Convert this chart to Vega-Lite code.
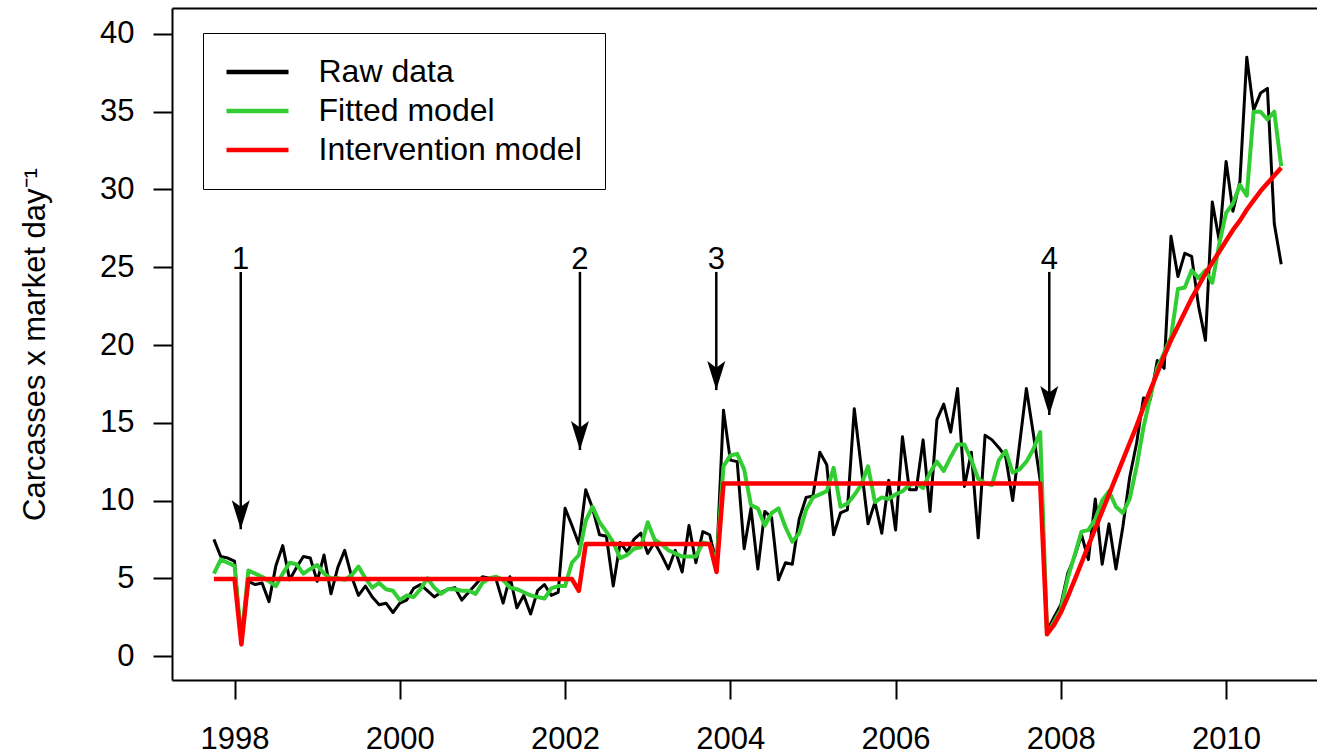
{
  "$schema": "https://vega.github.io/schema/vega-lite/v6.json",
  "width": 1145,
  "height": 672,
  "autosize": {"type": "none"},
  "padding": {"left": 172, "top": 8, "right": 0, "bottom": 75},
  "background": "white",
  "config": {"view": {"stroke": null}, "font": "Liberation Sans"},
  "datasets": {
    "series": [
      {"t":1997.75,"raw":7.5,"fitted":5.3,"intervention":4.95},
      {"t":1997.833,"raw":6.4,"fitted":6.2,"intervention":4.95},
      {"t":1997.917,"raw":6.3,"fitted":6.0,"intervention":4.95},
      {"t":1998,"raw":6.1,"fitted":5.8,"intervention":4.95},
      {"t":1998.083,"raw":0.8,"fitted":1.0,"intervention":0.75},
      {"t":1998.167,"raw":4.8,"fitted":5.5,"intervention":4.95},
      {"t":1998.25,"raw":4.6,"fitted":5.3,"intervention":4.95},
      {"t":1998.333,"raw":4.7,"fitted":5.1,"intervention":4.95},
      {"t":1998.417,"raw":3.5,"fitted":4.8,"intervention":4.95},
      {"t":1998.5,"raw":5.8,"fitted":4.5,"intervention":4.95},
      {"t":1998.583,"raw":7.1,"fitted":5.3,"intervention":4.95},
      {"t":1998.667,"raw":4.9,"fitted":6.0,"intervention":4.95},
      {"t":1998.75,"raw":5.7,"fitted":5.9,"intervention":4.95},
      {"t":1998.833,"raw":6.4,"fitted":5.3,"intervention":4.95},
      {"t":1998.917,"raw":6.3,"fitted":5.6,"intervention":4.95},
      {"t":1999,"raw":4.8,"fitted":5.85,"intervention":4.95},
      {"t":1999.083,"raw":6.5,"fitted":5.3,"intervention":4.95},
      {"t":1999.167,"raw":4.0,"fitted":5.0,"intervention":4.95},
      {"t":1999.25,"raw":5.7,"fitted":5.0,"intervention":4.95},
      {"t":1999.333,"raw":6.8,"fitted":4.9,"intervention":4.95},
      {"t":1999.417,"raw":5.1,"fitted":5.2,"intervention":4.95},
      {"t":1999.5,"raw":3.9,"fitted":5.75,"intervention":4.95},
      {"t":1999.583,"raw":4.5,"fitted":5.0,"intervention":4.95},
      {"t":1999.667,"raw":3.8,"fitted":4.4,"intervention":4.95},
      {"t":1999.75,"raw":3.3,"fitted":4.7,"intervention":4.95},
      {"t":1999.833,"raw":3.4,"fitted":4.3,"intervention":4.95},
      {"t":1999.917,"raw":2.8,"fitted":4.2,"intervention":4.95},
      {"t":2000,"raw":3.4,"fitted":3.6,"intervention":4.95},
      {"t":2000.083,"raw":3.6,"fitted":3.9,"intervention":4.95},
      {"t":2000.167,"raw":4.35,"fitted":3.8,"intervention":4.95},
      {"t":2000.25,"raw":4.6,"fitted":4.3,"intervention":4.95},
      {"t":2000.333,"raw":4.2,"fitted":5.0,"intervention":4.95},
      {"t":2000.417,"raw":3.8,"fitted":4.4,"intervention":4.95},
      {"t":2000.5,"raw":4.1,"fitted":4.0,"intervention":4.95},
      {"t":2000.583,"raw":4.3,"fitted":4.3,"intervention":4.95},
      {"t":2000.667,"raw":4.4,"fitted":4.3,"intervention":4.95},
      {"t":2000.75,"raw":3.6,"fitted":4.2,"intervention":4.95},
      {"t":2000.833,"raw":4.1,"fitted":4.2,"intervention":4.95},
      {"t":2000.917,"raw":4.6,"fitted":4.0,"intervention":4.95},
      {"t":2001,"raw":5.1,"fitted":4.7,"intervention":4.95},
      {"t":2001.083,"raw":5.0,"fitted":5.0,"intervention":4.95},
      {"t":2001.167,"raw":4.9,"fitted":5.1,"intervention":4.95},
      {"t":2001.25,"raw":3.4,"fitted":4.9,"intervention":4.95},
      {"t":2001.333,"raw":5.1,"fitted":4.4,"intervention":4.95},
      {"t":2001.417,"raw":3.1,"fitted":4.3,"intervention":4.95},
      {"t":2001.5,"raw":3.9,"fitted":4.1,"intervention":4.95},
      {"t":2001.583,"raw":2.7,"fitted":3.9,"intervention":4.95},
      {"t":2001.667,"raw":4.2,"fitted":3.8,"intervention":4.95},
      {"t":2001.75,"raw":4.6,"fitted":3.7,"intervention":4.95},
      {"t":2001.833,"raw":3.9,"fitted":4.35,"intervention":4.95},
      {"t":2001.917,"raw":4.1,"fitted":4.5,"intervention":4.95},
      {"t":2002,"raw":9.5,"fitted":4.5,"intervention":4.95},
      {"t":2002.083,"raw":8.4,"fitted":6.0,"intervention":4.95},
      {"t":2002.167,"raw":7.2,"fitted":6.5,"intervention":4.2},
      {"t":2002.25,"raw":10.7,"fitted":8.7,"intervention":7.2},
      {"t":2002.333,"raw":9.5,"fitted":9.6,"intervention":7.2},
      {"t":2002.417,"raw":7.8,"fitted":8.6,"intervention":7.2},
      {"t":2002.5,"raw":7.7,"fitted":8.0,"intervention":7.2},
      {"t":2002.583,"raw":4.5,"fitted":7.3,"intervention":7.2},
      {"t":2002.667,"raw":7.3,"fitted":6.3,"intervention":7.2},
      {"t":2002.75,"raw":6.7,"fitted":6.5,"intervention":7.2},
      {"t":2002.833,"raw":7.5,"fitted":6.9,"intervention":7.2},
      {"t":2002.917,"raw":7.9,"fitted":7.0,"intervention":7.2},
      {"t":2003,"raw":6.6,"fitted":8.6,"intervention":7.2},
      {"t":2003.083,"raw":7.3,"fitted":7.5,"intervention":7.2},
      {"t":2003.167,"raw":6.5,"fitted":7.2,"intervention":7.2},
      {"t":2003.25,"raw":5.6,"fitted":6.8,"intervention":7.2},
      {"t":2003.333,"raw":6.8,"fitted":6.6,"intervention":7.2},
      {"t":2003.417,"raw":5.4,"fitted":6.4,"intervention":7.2},
      {"t":2003.5,"raw":8.4,"fitted":6.4,"intervention":7.2},
      {"t":2003.583,"raw":6.0,"fitted":6.4,"intervention":7.2},
      {"t":2003.667,"raw":8.0,"fitted":7.3,"intervention":7.2},
      {"t":2003.75,"raw":7.8,"fitted":7.2,"intervention":7.2},
      {"t":2003.833,"raw":6.0,"fitted":6.0,"intervention":5.4},
      {"t":2003.917,"raw":15.8,"fitted":12.2,"intervention":11.1},
      {"t":2004,"raw":12.6,"fitted":12.9,"intervention":11.1},
      {"t":2004.083,"raw":12.5,"fitted":13.0,"intervention":11.1},
      {"t":2004.167,"raw":6.9,"fitted":12.0,"intervention":11.1},
      {"t":2004.25,"raw":9.5,"fitted":9.7,"intervention":11.1},
      {"t":2004.333,"raw":5.6,"fitted":9.5,"intervention":11.1},
      {"t":2004.417,"raw":9.3,"fitted":8.4,"intervention":11.1},
      {"t":2004.5,"raw":8.9,"fitted":9.2,"intervention":11.1},
      {"t":2004.583,"raw":4.9,"fitted":9.5,"intervention":11.1},
      {"t":2004.667,"raw":6.0,"fitted":8.3,"intervention":11.1},
      {"t":2004.75,"raw":5.9,"fitted":7.35,"intervention":11.1},
      {"t":2004.833,"raw":8.8,"fitted":7.9,"intervention":11.1},
      {"t":2004.917,"raw":10.2,"fitted":9.4,"intervention":11.1},
      {"t":2005,"raw":10.3,"fitted":10.2,"intervention":11.1},
      {"t":2005.083,"raw":13.1,"fitted":10.4,"intervention":11.1},
      {"t":2005.167,"raw":12.3,"fitted":10.6,"intervention":11.1},
      {"t":2005.25,"raw":7.8,"fitted":12.1,"intervention":11.1},
      {"t":2005.333,"raw":9.2,"fitted":9.6,"intervention":11.1},
      {"t":2005.417,"raw":9.4,"fitted":9.8,"intervention":11.1},
      {"t":2005.5,"raw":15.9,"fitted":10.35,"intervention":11.1},
      {"t":2005.583,"raw":12.2,"fitted":11.0,"intervention":11.1},
      {"t":2005.667,"raw":8.5,"fitted":12.2,"intervention":11.1},
      {"t":2005.75,"raw":9.9,"fitted":9.9,"intervention":11.1},
      {"t":2005.833,"raw":7.9,"fitted":10.2,"intervention":11.1},
      {"t":2005.917,"raw":11.3,"fitted":10.1,"intervention":11.1},
      {"t":2006,"raw":8.1,"fitted":10.4,"intervention":11.1},
      {"t":2006.083,"raw":14.1,"fitted":10.6,"intervention":11.1},
      {"t":2006.167,"raw":10.7,"fitted":11.0,"intervention":11.1},
      {"t":2006.25,"raw":10.7,"fitted":11.1,"intervention":11.1},
      {"t":2006.333,"raw":13.9,"fitted":10.8,"intervention":11.1},
      {"t":2006.417,"raw":9.3,"fitted":11.8,"intervention":11.1},
      {"t":2006.5,"raw":15.2,"fitted":12.5,"intervention":11.1},
      {"t":2006.583,"raw":16.2,"fitted":11.9,"intervention":11.1},
      {"t":2006.667,"raw":14.4,"fitted":12.8,"intervention":11.1},
      {"t":2006.75,"raw":17.2,"fitted":13.6,"intervention":11.1},
      {"t":2006.833,"raw":10.9,"fitted":13.6,"intervention":11.1},
      {"t":2006.917,"raw":13.1,"fitted":12.6,"intervention":11.1},
      {"t":2007,"raw":7.6,"fitted":11.4,"intervention":11.1},
      {"t":2007.083,"raw":14.2,"fitted":11.1,"intervention":11.1},
      {"t":2007.167,"raw":13.9,"fitted":11.0,"intervention":11.1},
      {"t":2007.25,"raw":13.4,"fitted":12.6,"intervention":11.1},
      {"t":2007.333,"raw":12.8,"fitted":13.2,"intervention":11.1},
      {"t":2007.417,"raw":10.0,"fitted":11.8,"intervention":11.1},
      {"t":2007.5,"raw":13.6,"fitted":12.0,"intervention":11.1},
      {"t":2007.583,"raw":17.2,"fitted":12.5,"intervention":11.1},
      {"t":2007.667,"raw":14.3,"fitted":13.3,"intervention":11.1},
      {"t":2007.75,"raw":11.3,"fitted":14.4,"intervention":11.1},
      {"t":2007.833,"raw":1.6,"fitted":1.4,"intervention":1.4},
      {"t":2007.917,"raw":2.5,"fitted":2.2,"intervention":2.0},
      {"t":2008,"raw":3.3,"fitted":3.0,"intervention":2.8},
      {"t":2008.083,"raw":5.3,"fitted":5.0,"intervention":3.8},
      {"t":2008.167,"raw":6.4,"fitted":6.5,"intervention":4.9},
      {"t":2008.25,"raw":7.8,"fitted":8.0,"intervention":6.0},
      {"t":2008.333,"raw":6.2,"fitted":8.1,"intervention":7.1},
      {"t":2008.417,"raw":10.1,"fitted":8.8,"intervention":8.2},
      {"t":2008.5,"raw":5.9,"fitted":10.0,"intervention":9.3},
      {"t":2008.583,"raw":8.5,"fitted":10.6,"intervention":10.4},
      {"t":2008.667,"raw":5.6,"fitted":9.6,"intervention":11.5},
      {"t":2008.75,"raw":8.3,"fitted":9.2,"intervention":12.6},
      {"t":2008.833,"raw":11.5,"fitted":10.1,"intervention":13.7},
      {"t":2008.917,"raw":13.7,"fitted":12.2,"intervention":14.8},
      {"t":2009,"raw":16.6,"fitted":14.7,"intervention":16.0},
      {"t":2009.083,"raw":16.5,"fitted":16.7,"intervention":17.1},
      {"t":2009.167,"raw":19.0,"fitted":18.5,"intervention":18.2},
      {"t":2009.25,"raw":18.5,"fitted":19.5,"intervention":19.3},
      {"t":2009.333,"raw":27.0,"fitted":20.5,"intervention":20.3},
      {"t":2009.417,"raw":24.4,"fitted":23.6,"intervention":21.2},
      {"t":2009.5,"raw":25.9,"fitted":23.7,"intervention":22.1},
      {"t":2009.583,"raw":25.7,"fitted":24.8,"intervention":23.0},
      {"t":2009.667,"raw":22.5,"fitted":24.3,"intervention":23.8},
      {"t":2009.75,"raw":20.3,"fitted":24.8,"intervention":24.6},
      {"t":2009.833,"raw":29.2,"fitted":24.0,"intervention":25.3},
      {"t":2009.917,"raw":26.7,"fitted":26.5,"intervention":26.0},
      {"t":2010,"raw":31.8,"fitted":28.5,"intervention":26.7},
      {"t":2010.083,"raw":28.6,"fitted":29.1,"intervention":27.4},
      {"t":2010.167,"raw":30.5,"fitted":30.3,"intervention":28.0},
      {"t":2010.25,"raw":38.5,"fitted":29.6,"intervention":28.7},
      {"t":2010.333,"raw":35.1,"fitted":35.0,"intervention":29.3},
      {"t":2010.417,"raw":36.2,"fitted":35.0,"intervention":29.9},
      {"t":2010.5,"raw":36.5,"fitted":34.5,"intervention":30.4},
      {"t":2010.583,"raw":27.8,"fitted":35.0,"intervention":30.9},
      {"t":2010.667,"raw":25.2,"fitted":31.5,"intervention":31.4}
    ],
    "events": [
      {"event":"1","t":1998.075,"top":24.7,"tip":8.15},
      {"event":"2","t":2002.18,"top":24.7,"tip":13.25},
      {"event":"3","t":2003.83,"top":24.7,"tip":17.1},
      {"event":"4","t":2007.86,"top":24.7,"tip":15.5}
    ]
  },
  "resolve": {"axis": {"x": "independent"}},
  "layer": [
    {
      "data": {"name": "series"},
      "mark": {"type": "line", "strokeWidth": 3, "strokeJoin": "round"},
      "encoding": {
        "x": {
          "field": "t", "type": "quantitative",
          "scale": {"domain": [1997.243, 2011.1], "nice": false, "zero": false},
          "axis": {
            "orient": "bottom", "values": [1998, 2000, 2002, 2004, 2006, 2008, 2010], "format": "d",
            "title": null, "grid": false, "tickSize": 19, "tickWidth": 2, "tickColor": "black",
            "domainColor": "black", "domainWidth": 2, "labelFontSize": 31, "labelColor": "black",
            "labelPadding": 25, "labelFont": "Liberation Sans", "labelFlush": false, "labelOverlap": false
          }
        },
        "y": {
          "field": "raw", "type": "quantitative",
          "scale": {"domain": [-1.54, 41.67], "nice": false, "zero": false},
          "axis": {
            "values": [0, 5, 10, 15, 20, 25, 30, 35, 40], "grid": false, "tickSize": 19, "tickWidth": 2,
            "tickColor": "black", "domainColor": "black", "domainWidth": 2, "labelFontSize": 31,
            "labelColor": "black", "labelPadding": 19, "labelFont": "Liberation Sans",
            "labelFlush": false, "labelOverlap": false,
            "title": "Carcasses x market day⁻¹", "titleFontSize": 31, "titleFontWeight": "normal",
            "titleColor": "black", "titleFont": "Liberation Sans", "titlePadding": 48
          }
        },
        "color": {
          "datum": "Raw data", "type": "nominal",
          "scale": {"domain": ["Raw data", "Fitted model", "Intervention model"], "range": ["#000000", "#32CD32", "#FF0000"]},
          "legend": {
            "orient": "none", "legendX": 31, "legendY": 25, "title": null,
            "symbolType": "M-2.296,0L2.296,0", "symbolSize": 729, "symbolStrokeWidth": 4.5,
            "symbolOffset": 15.5, "labelOffset": 45, "rowPadding": 7,
            "labelFontSize": 32, "labelFont": "Liberation Sans", "labelColor": "black", "labelLimit": 400,
            "strokeColor": "black", "padding": 23, "fillColor": "white"
          }
        }
      }
    },
    {
      "data": {"name": "series"},
      "mark": {"type": "line", "strokeWidth": 4, "strokeJoin": "round"},
      "encoding": {
        "x": {"field": "t", "type": "quantitative", "axis": null},
        "y": {"field": "fitted", "type": "quantitative"},
        "color": {"datum": "Fitted model", "type": "nominal"}
      }
    },
    {
      "data": {"name": "series"},
      "mark": {"type": "line", "strokeWidth": 4.5, "strokeJoin": "round"},
      "encoding": {
        "x": {"field": "t", "type": "quantitative", "axis": null},
        "y": {"field": "intervention", "type": "quantitative"},
        "color": {"datum": "Intervention model", "type": "nominal"}
      }
    },
    {
      "data": {"name": "events"},
      "mark": {"type": "rule", "strokeWidth": 2.5, "color": "black"},
      "encoding": {
        "x": {"field": "t", "type": "quantitative", "axis": null},
        "y": {"field": "top", "type": "quantitative"},
        "y2": {"field": "tip"}
      }
    },
    {
      "data": {"name": "events"},
      "mark": {"type": "point", "shape": "M0,1L-0.62,-1L0,-0.55L0.62,-1Z", "filled": true, "color": "black", "opacity": 1, "size": 841, "yOffset": -14.5},
      "encoding": {
        "x": {"field": "t", "type": "quantitative", "axis": null},
        "y": {"field": "tip", "type": "quantitative"}
      }
    },
    {
      "data": {"name": "events"},
      "mark": {"type": "text", "fontSize": 31, "font": "Liberation Sans", "color": "black", "align": "center", "baseline": "alphabetic", "dy": -3},
      "encoding": {
        "x": {
          "field": "t", "type": "quantitative",
          "axis": {"orient": "top", "labels": false, "ticks": false, "title": null, "grid": false, "domainColor": "black", "domainWidth": 2}
        },
        "y": {"field": "top", "type": "quantitative"},
        "text": {"field": "event"}
      }
    }
  ]
}
